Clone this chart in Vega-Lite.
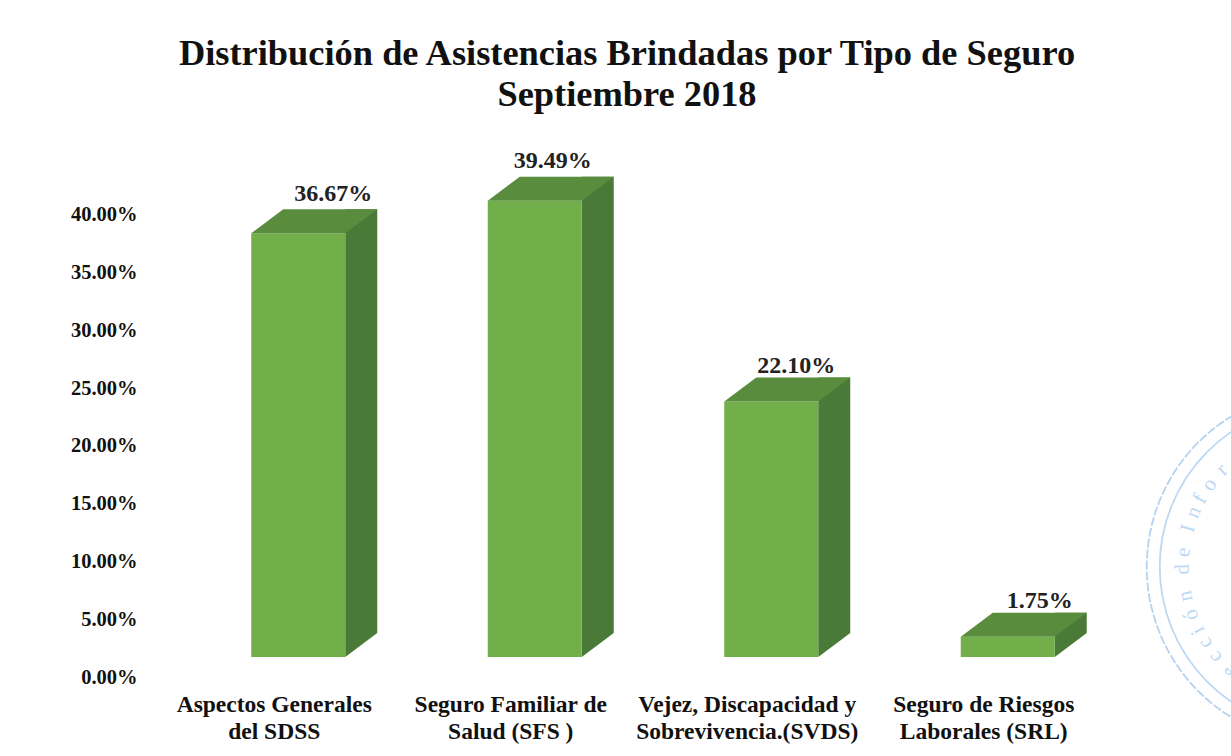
{"$schema":"https://vega.github.io/schema/vega-lite/v6.json","width":946,"height":520,"padding":{"left":180,"top":137,"right":105,"bottom":99},"autosize":"none","background":"#ffffff","view":{"stroke":null},
"title":{"text":["Distribución de Asistencias Brindadas por Tipo de Seguro","Septiembre 2018"],"font":"Liberation Serif","fontWeight":"bold","fontSize":36.4,"lineHeight":41,"color":"#111111","anchor":"middle","frame":"group","dx":-26,"offset":24},
"data":{"values":[{"tipo":"Aspectos Generales|del SDSS","valor":36.67,"etiqueta":"36.67%"},{"tipo":"Seguro Familiar de|Salud (SFS )","valor":39.49,"etiqueta":"39.49%"},{"tipo":"Vejez, Discapacidad y|Sobrevivencia.(SVDS)","valor":22.10,"etiqueta":"22.10%"},{"tipo":"Seguro de Riesgos|Laborales (SRL)","valor":1.75,"etiqueta":"1.75%"}]},
"encoding":{"x":{"field":"tipo","type":"nominal","sort":null,"scale":{"domain":["Aspectos Generales|del SDSS","Seguro Familiar de|Salud (SFS )","Vejez, Discapacidad y|Sobrevivencia.(SVDS)","Seguro de Riesgos|Laborales (SRL)"],"paddingInner":0.6,"paddingOuter":0.3},"axis":{"title":null,"domain":false,"ticks":false,"labelAngle":0,"labelAlign":"center","labelBaseline":"top","labelExpr":"split(datum.value,'|')","labelFont":"Liberation Serif","labelFontWeight":"bold","labelFontSize":23.5,"labelLineHeight":27,"labelColor":"#111111","labelPadding":35,"labelLimit":0,"labelOffset":-24}},
"y":{"field":"valor","type":"quantitative","scale":{"domain":[0,45],"nice":false},"axis":{"title":null,"domain":false,"ticks":false,"grid":false,"values":[0,5,10,15,20,25,30,35,40],"labelExpr":"format(datum.value,'.2f')+'%'","labelFont":"Liberation Serif","labelFontWeight":"bold","labelFontSize":20.5,"labelColor":"#111111","labelPadding":43,"labelOffset":20}}},
"layer":[
{"transform":[{"filter":"datum.valor<2"}],"mark":{"type":"point","filled":false,"shape":"circle","size":123904,"stroke":"#b4d3f2","strokeWidth":1.8,"strokeDash":[9,2],"opacity":1,"xOffset":315,"yOffset":-70},"encoding":{}},
{"transform":[{"filter":"datum.valor<2"}],"mark":{"type":"point","filled":false,"shape":"circle","size":106276,"stroke":"#bcd8f4","strokeWidth":1.8,"opacity":1,"xOffset":315,"yOffset":-70},"encoding":{}},
{"data":{"values":[{"tipo":"Seguro de Riesgos|Laborales (SRL)","valor":7.79,"letra":"e","angulo":222},{"tipo":"Seguro de Riesgos|Laborales (SRL)","valor":7.79,"letra":"c","angulo":230},{"tipo":"Seguro de Riesgos|Laborales (SRL)","valor":7.79,"letra":"c","angulo":237},{"tipo":"Seguro de Riesgos|Laborales (SRL)","valor":7.79,"letra":"i","angulo":243},{"tipo":"Seguro de Riesgos|Laborales (SRL)","valor":7.79,"letra":"ó","angulo":250},{"tipo":"Seguro de Riesgos|Laborales (SRL)","valor":7.79,"letra":"n","angulo":258},{"tipo":"Seguro de Riesgos|Laborales (SRL)","valor":7.79,"letra":"d","angulo":269},{"tipo":"Seguro de Riesgos|Laborales (SRL)","valor":7.79,"letra":"e","angulo":276},{"tipo":"Seguro de Riesgos|Laborales (SRL)","valor":7.79,"letra":"I","angulo":286},{"tipo":"Seguro de Riesgos|Laborales (SRL)","valor":7.79,"letra":"n","angulo":293},{"tipo":"Seguro de Riesgos|Laborales (SRL)","valor":7.79,"letra":"f","angulo":299},{"tipo":"Seguro de Riesgos|Laborales (SRL)","valor":7.79,"letra":"o","angulo":306},{"tipo":"Seguro de Riesgos|Laborales (SRL)","valor":7.79,"letra":"r","angulo":314}]},"mark":{"type":"text","font":"Liberation Serif","fontSize":21,"color":"#bcd8f3","align":"center","baseline":"middle","xOffset":315,"dy":-140},"encoding":{"text":{"field":"letra"},"angle":{"field":"angulo","type":"quantitative","scale":null}}},
{"mark":{"type":"bar","color":"#4a7a38","width":32,"xOffset":63,"yOffset":-24,"y2Offset":-24},"encoding":{"y2":{"datum":0}}},
{"mark":{"type":"point","shape":"M47 -24L79 -24L47 0Z","filled":true,"color":"#4a7a38","opacity":1,"size":4,"strokeWidth":0},"encoding":{"y":{"datum":0}}},
{"mark":{"type":"bar","color":"#72ae4a","width":94},"encoding":{"y2":{"datum":0}}},
{"mark":{"type":"point","shape":"M-47 0L-15 -24L79 -24L47 0Z","filled":true,"color":"#5a8c3e","opacity":1,"size":4,"strokeWidth":0},"encoding":{}},
{"mark":{"type":"text","font":"Liberation Serif","fontWeight":"bold","fontSize":24,"color":"#222222","baseline":"middle","dx":{"expr":"datum.valor>39?18:datum.valor>30?35:datum.valor>10?25:32"},"dy":{"expr":"datum.valor>39?-40:datum.valor>30?-39:datum.valor>10?-36:-36"}},"encoding":{"text":{"field":"etiqueta"}}}
]}
